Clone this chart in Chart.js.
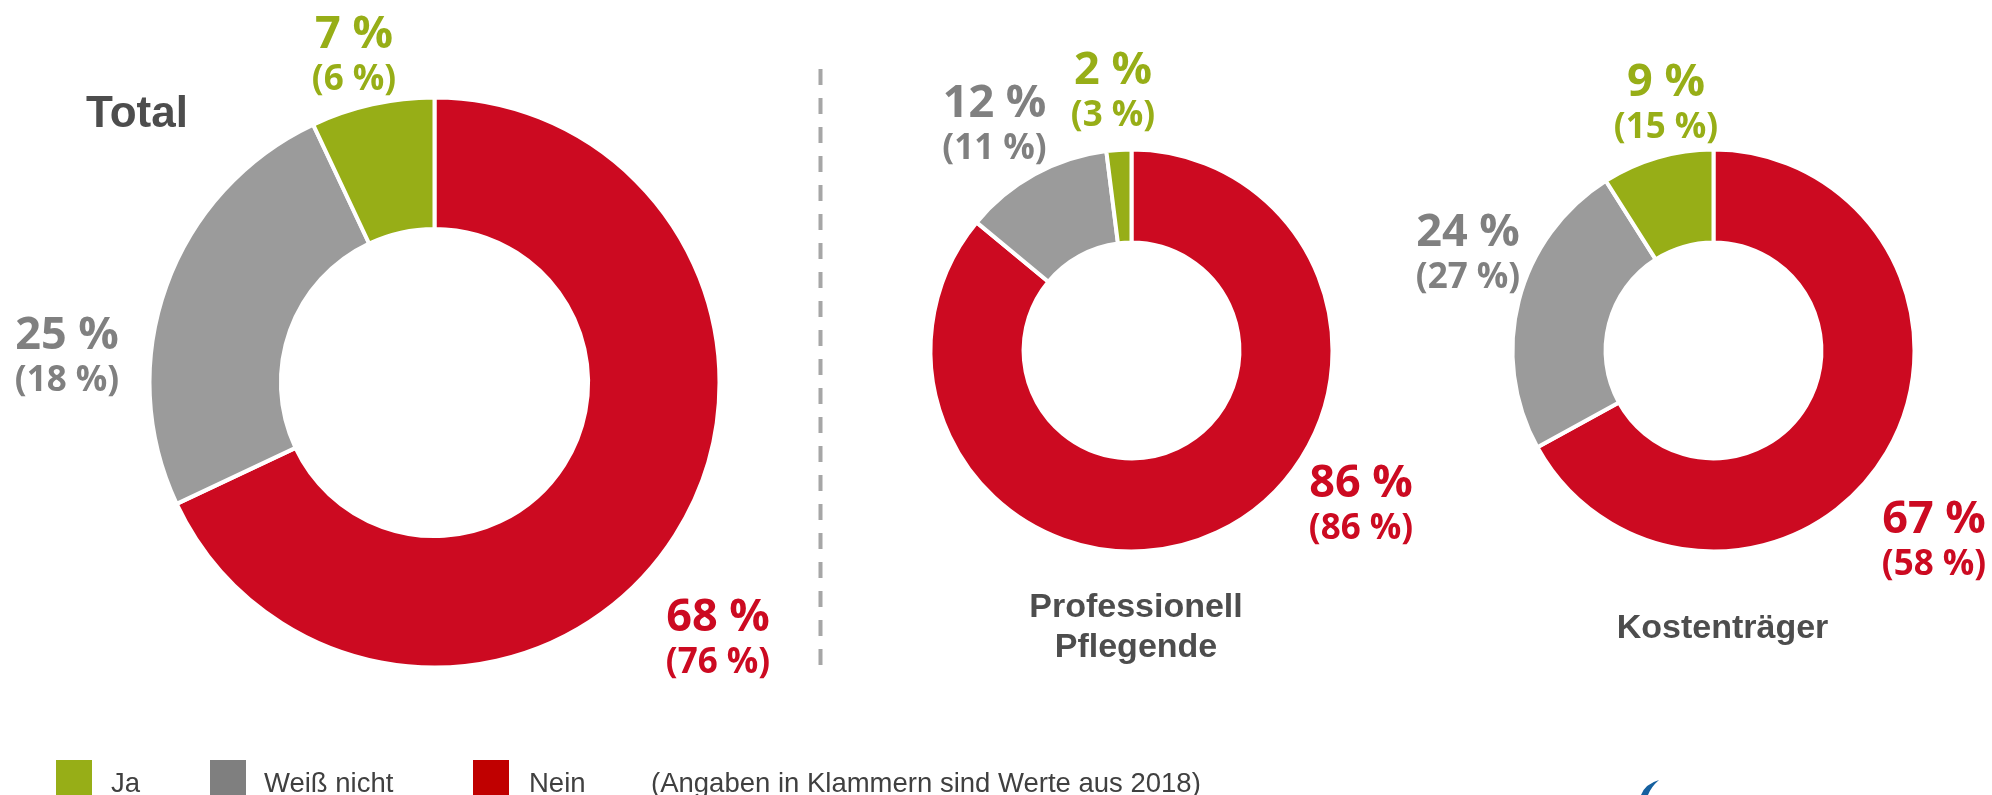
<!DOCTYPE html>
<html lang="de">
<head>
<meta charset="utf-8">
<title>Umfrage 2018 / aktuell</title>
<script src="https://cdn.jsdelivr.net/npm/chart.js@4.4.1/dist/chart.umd.min.js"></script>
<style>
  html, body { margin: 0; padding: 0; background: #fff; }
  body {
    width: 1992px; height: 795px; position: relative; overflow: hidden;
    font-family: "Liberation Sans", Arial, sans-serif; color: #404040;
  }
  canvas { position: absolute; top: 0; }
  #c-total { left: 0; }
  #c-pflege { left: 850px; }
  #c-kosten { left: 1413px; }
  #deco { position: absolute; left: 0; top: 0; }
  .swatch { position: absolute; top: 760px; width: 36px; height: 36px; }
  .ltext { position: absolute; top: 769px; font-size: 27.5px; line-height: 28px; white-space: nowrap; }
</style>
</head>
<body>
<canvas id="c-total" width="869" height="765"></canvas>
<canvas id="c-pflege" width="563" height="701"></canvas>
<canvas id="c-kosten" width="601" height="701"></canvas>

<svg id="deco" width="1992" height="795">
  <line x1="820.5" y1="69" x2="820.5" y2="667" stroke="#a6a6a6" stroke-width="4" stroke-dasharray="16 13"/>
  <path d="M1641 795 Q1645 784 1659 780 Q1651 787 1648 795 Z" fill="#15609f"/>
</svg>

<div id="legend"></div>

<script>
// Daten (aktuell / in Klammern 2018)
const categories = ['Nein', 'Weiß nicht', 'Ja'];
const totalValues = [68, 25, 7];
const totalPrev = [76, 18, 6];
const pflegeValues = [86, 12, 2];
const pflegePrev = [86, 11, 3];
const kostenValues = [67, 24, 9];
const kostenPrev = [58, 27, 15];

const sliceColors = ['#cc0a21', '#9b9b9b', '#97ae17'];
const labelColors = ['#cc0a21', '#808080', '#97ae17'];
const legendColors = { 'Ja': '#97ae17', 'Weiß nicht': '#7f7f7f', 'Nein': '#c00000' };
const footnote = '(Angaben in Klammern sind Werte aus 2018)';

// Beschriftungen: Werte + Vorjahr, Position relativ zur Kreismitte
const sliceLabels = {
    id: 'sliceLabels',
    afterDraw(chart, args, opts) {
        const ctx = chart.ctx;
        const arc = chart.getDatasetMeta(0).data[0];
        const cx = arc.x, cy = arc.y;
        const values = chart.data.datasets[0].data;
        ctx.save();
        ctx.textAlign = 'center';
        ctx.textBaseline = 'alphabetic';
        values.forEach((v, i) => {
            const [dx, dy] = opts.anchors[i];
            ctx.fillStyle = labelColors[i];
            ctx.font = 'bold 45px "Open Sans"';
            ctx.fillText(v + ' %', cx + dx, cy + dy);
            ctx.font = 'bold 35px "Open Sans"';
            ctx.fillText('(' + opts.previous[i] + ' %)', cx + dx, cy + dy + 42);
        });
        ctx.fillStyle = '#4d4d4d';
        ctx.font = opts.titleFont;
        opts.title.forEach((line, k) => {
            ctx.fillText(line, cx + opts.titleAt[0], cy + opts.titleAt[1] + k * 40);
        });
        ctx.restore();
    }
};

function makeDonut(id, values, previous, radius, cutout, labelOpts) {
    return new Chart(document.getElementById(id), {
        type: 'doughnut',
        data: {
            labels: categories,
            datasets: [{
                data: values,
                backgroundColor: sliceColors,
                borderColor: '#ffffff',
                borderWidth: 4
            }]
        },
        options: {
            responsive: false,
            animation: false,
            radius: radius,
            cutout: cutout,
            layout: { padding: 0 },
            plugins: {
                legend: { display: false },
                tooltip: { enabled: false },
                sliceLabels: Object.assign({ previous: previous }, labelOpts)
            }
        },
        plugins: [sliceLabels]
    });
}

function buildLegend() {
    const legend = document.getElementById('legend');
    const swatchX = [56, 210, 473];
    const textX = [111, 264, 529];
    ['Ja', 'Weiß nicht', 'Nein'].forEach((name, i) => {
        const sw = document.createElement('div');
        sw.className = 'swatch';
        sw.style.left = swatchX[i] + 'px';
        sw.style.background = legendColors[name];
        legend.appendChild(sw);
        const tx = document.createElement('div');
        tx.className = 'ltext';
        tx.style.left = textX[i] + 'px';
        tx.textContent = name;
        legend.appendChild(tx);
    });
    const note = document.createElement('div');
    note.className = 'ltext';
    note.style.left = '651px';
    note.textContent = footnote;
    legend.appendChild(note);
}

Promise.all([
    document.fonts.load('bold 45px "Open Sans"'),
    document.fonts.load('bold 34px "Liberation Sans"')
]).catch(() => {}).then(() => {
    makeDonut('c-total', totalValues, totalPrev, 285, '53.9%', {
        anchors: [[283.5, 248.5], [-367.5, -33.5], [-80.5, -334.5]],
        title: ['Total'],
        titleAt: [-297.5, -255.5],
        titleFont: 'bold 44px "Liberation Sans"'
    });
    makeDonut('c-pflege', pflegeValues, pflegePrev, 201, '53.7%', {
        anchors: [[229.5, 146.5], [-137, -233.5], [-18.5, -266.5]],
        title: ['Professionell', 'Pflegende'],
        titleAt: [4.5, 266.5],
        titleFont: 'bold 34px "Liberation Sans"'
    });
    makeDonut('c-kosten', kostenValues, kostenPrev, 201, '53.7%', {
        anchors: [[220.5, 182], [-245.5, -104.5], [-47.5, -254.5]],
        title: ['Kostenträger'],
        titleAt: [9, 287],
        titleFont: 'bold 34px "Liberation Sans"'
    });
    buildLegend();
});
</script>
</body>
</html>
